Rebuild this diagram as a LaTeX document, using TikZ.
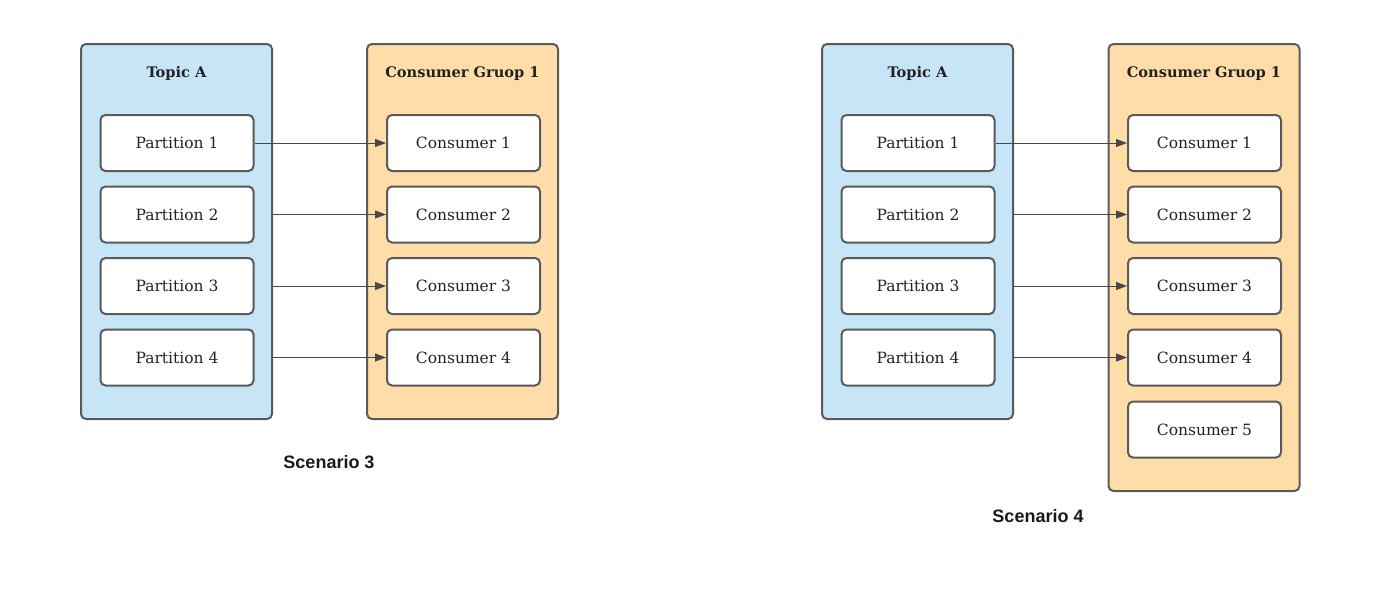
\documentclass[tikz,border=0pt]{standalone}
\usepackage{fontspec}
\setmainfont{DejaVu Serif}
\newfontfamily\labelfont{Liberation Sans}
\usetikzlibrary{arrows.meta}
\definecolor{linec}{HTML}{5A5A5A}
\definecolor{topicblue}{HTML}{C6E5F7}
\definecolor{grouporange}{HTML}{FFDDA9}
\definecolor{textc}{HTML}{222222}
\tikzset{
  outerbox/.style={draw=linec, line width=2pt, rounded corners=5pt, inner sep=0pt, minimum width=191pt},
  topicbox/.style={outerbox, fill=topicblue},
  groupbox/.style={outerbox, fill=grouporange},
  itembox/.style={draw=linec, line width=2pt, rounded corners=5pt, fill=white, inner sep=0pt,
    minimum width=153pt, minimum height=56pt, text=textc, font=\fontsize{15.5}{18}\selectfont},
  titletext/.style={text=textc, font=\fontsize{14.6}{17}\selectfont\bfseries, inner sep=0pt},
  scenariotext/.style={text=black!90, font=\labelfont\fontsize{18}{21}\selectfont\bfseries, inner sep=0pt},
  link/.style={draw=linec!80!black, line width=1pt, -{Triangle[length=11pt,width=8pt]}}
}
\begin{document}
\begin{tikzpicture}[x=1pt,y=-1pt]
\useasboundingbox (0,0) rectangle (1400,589);
% ---------- Scenario 3 ----------
\node[topicbox, minimum height=375pt] (tA) at (176.5,231.5) {};
\node[groupbox, minimum height=375pt] (gA) at (462.5,231.5) {};
\node[titletext] (tAt) at (176.5,73.5) {Topic A};
\node[titletext] (gAt) at (462.5,73.5) {Consumer Gruop 1};
\node[itembox] (pA1) at (177,143) {Partition 1};
\node[itembox] (pA2) at (177,214.5) {Partition 2};
\node[itembox] (pA3) at (177,286) {Partition 3};
\node[itembox] (pA4) at (177,357.5) {Partition 4};
\node[itembox] (cA1) at (463.5,143) {Consumer 1};
\node[itembox] (cA2) at (463.5,214.5) {Consumer 2};
\node[itembox] (cA3) at (463.5,286) {Consumer 3};
\node[itembox] (cA4) at (463.5,357.5) {Consumer 4};
\draw[link] (pA1.east) -- (cA1.west);
\draw[link] (tA.east |- pA2.east) -- (cA2.west);
\draw[link] (tA.east |- pA3.east) -- (cA3.west);
\draw[link] (tA.east |- pA4.east) -- (cA4.west);
\node[scenariotext] (sA) at (329,462) {Scenario 3};
% ---------- Scenario 4 ----------
\node[topicbox, minimum height=375pt] (tB) at (917.5,231.5) {};
\node[groupbox, minimum height=447pt] (gB) at (1204,267.5) {};
\node[titletext] (tBt) at (917.5,73.5) {Topic A};
\node[titletext] (gBt) at (1204,73.5) {Consumer Gruop 1};
\node[itembox] (pB1) at (918,143) {Partition 1};
\node[itembox] (pB2) at (918,214.5) {Partition 2};
\node[itembox] (pB3) at (918,286) {Partition 3};
\node[itembox] (pB4) at (918,357.5) {Partition 4};
\node[itembox] (cB1) at (1204.5,143) {Consumer 1};
\node[itembox] (cB2) at (1204.5,214.5) {Consumer 2};
\node[itembox] (cB3) at (1204.5,286) {Consumer 3};
\node[itembox] (cB4) at (1204.5,357.5) {Consumer 4};
\node[itembox] (cB5) at (1204.5,429.5) {Consumer 5};
\draw[link] (pB1.east) -- (cB1.west);
\draw[link] (tB.east |- pB2.east) -- (cB2.west);
\draw[link] (tB.east |- pB3.east) -- (cB3.west);
\draw[link] (tB.east |- pB4.east) -- (cB4.west);
\node[scenariotext] (sB) at (1038,516) {Scenario 4};
\end{tikzpicture}
\end{document}
